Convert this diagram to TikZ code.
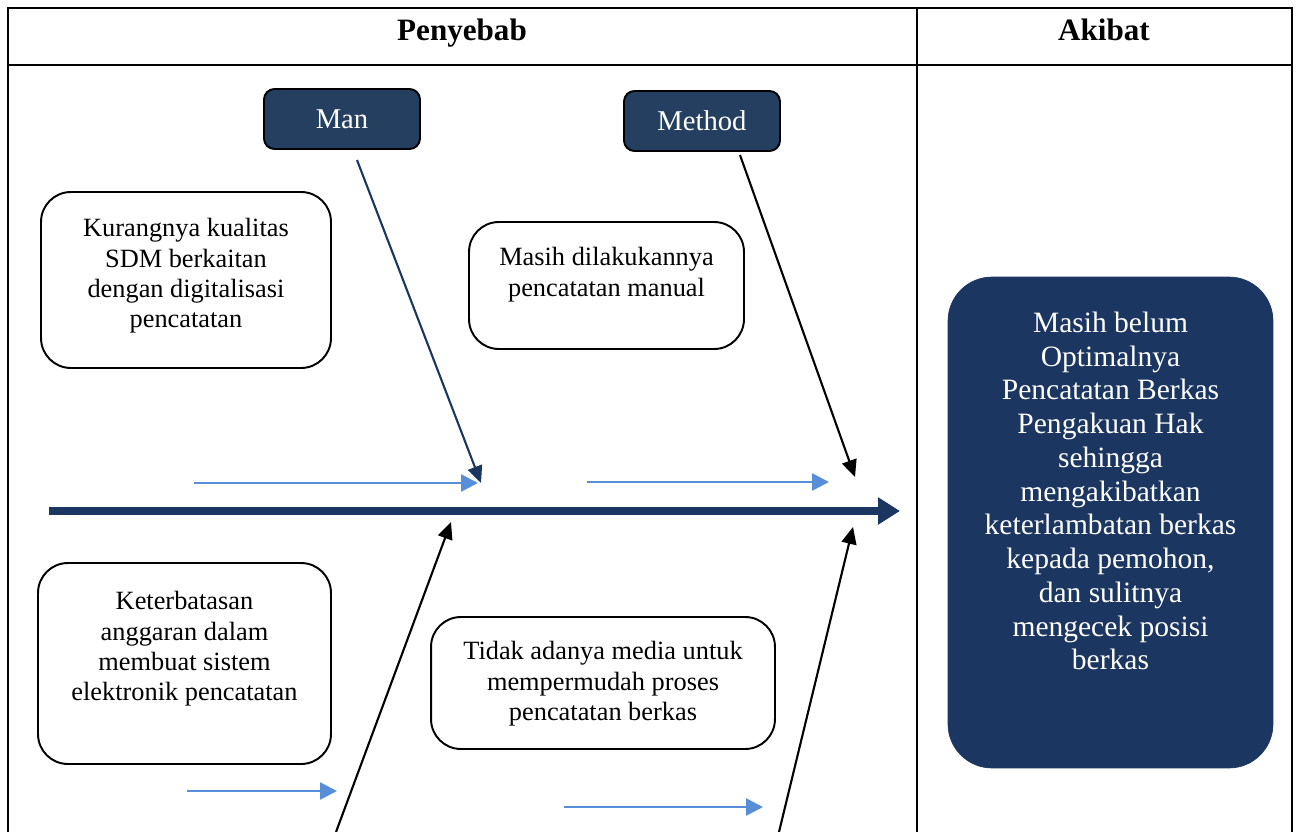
\documentclass[tikz,border=0pt]{standalone}
\usepackage{fontspec}
\setmainfont{Liberation Serif}
\usetikzlibrary{arrows.meta,positioning}

\definecolor{boxnavy}{HTML}{243F60}
\definecolor{deepnavy}{HTML}{1B3660}
\definecolor{skyblue}{HTML}{568FD8}

\begin{document}
\begin{tikzpicture}[x=0.02cm, y=-0.02cm,
    headtext/.style={font=\bfseries\fontsize{17.7}{20}\selectfont},
    catbox/.style={draw=black, line width=1.1pt, fill=boxnavy, rounded corners=6pt,
      text=white, minimum width=3.12cm, minimum height=1.2cm,
      font=\fontsize{16.3}{19}\selectfont},
    causebox/.style={draw=black, line width=1.1pt, rounded corners=17pt, fill=white},
    causetext/.style={align=center, inner sep=0pt, font=\fontsize{15}{17.3}\selectfont},
    bone/.style={line width=1.2pt, -{Triangle[length=0.34cm, width=0.3cm]}},
    subarrow/.style={skyblue, line width=1.5pt, -{Triangle[length=0.34cm, width=0.34cm]}}]
  \useasboundingbox (0,0) rectangle (1299,832);

  % table frame
  \draw[line width=1.3pt] (8,832) -- (8,8) -- (1292,8) -- (1292,832);
  \draw[line width=1.3pt] (8,65) -- (1292,65);
  \draw[line width=1.3pt] (917,8) -- (917,832);
  \node[headtext] (penyebab) at (462,33) {Penyebab};
  \node[headtext] (akibathead) at (1104,30) {Akibat};

  % categories
  \node[catbox] (man) at (342,119) {\raisebox{-2pt}{Man}};
  \node[catbox] (method) at (702,121) {\raisebox{-2pt}{Method}};

  % causes
  \node[causebox, minimum width=5.8cm, minimum height=3.52cm] (sdmbox) at (186,280) {};
  \node[causetext, below=0.54cm of sdmbox.north] (sdm)
    {Kurangnya kualitas\\SDM berkaitan\\dengan digitalisasi\\pencatatan};
  \node[causebox, minimum width=5.5cm, minimum height=2.54cm] (manualbox) at (606.5,285.5) {};
  \node[causetext, below=0.52cm of manualbox.north] (manual)
    {Masih dilakukannya\\pencatatan manual};
  \node[causebox, minimum width=5.86cm, minimum height=4.02cm] (anggaranbox) at (184.5,663.5) {};
  \node[causetext, below=0.58cm of anggaranbox.north] (anggaran)
    {Keterbatasan\\anggaran dalam\\membuat sistem\\elektronik pencatatan};
  \node[causebox, minimum width=6.88cm, minimum height=2.64cm] (mediabox) at (603,683) {};
  \node[causetext, below=0.5cm of mediabox.north] (media)
    {Tidak adanya media untuk\\mempermudah proses\\pencatatan berkas};

  % effect
  \node[fill=deepnavy, draw=deepnavy, rounded corners=25pt, minimum width=6.5cm,
    minimum height=9.82cm] (akibatbox) at (1110.5,522.5) {};
  \node[align=center, inner sep=0pt, text=white, font=\fontsize{16.8}{19.2}\selectfont,
    below=0.7cm of akibatbox.north] (akibat)
    {Masih belum\\Optimalnya\\Pencatatan Berkas\\Pengakuan Hak\\sehingga\\mengakibatkan\\
     keterlambatan berkas\\kepada pemohon,\\dan sulitnya\\mengecek posisi\\berkas};

  % spine
  \coordinate (tail) at (49,511);
  \coordinate (head) at (900,511);
  \draw[deepnavy, line width=4pt, -{Triangle[length=0.44cm, width=0.52cm]}] (tail) -- (head);

  % bones
  \coordinate (manfrom) at (357,160);
  \coordinate (manto) at (481,483);
  \draw[bone, deepnavy] (manfrom) -- (manto);
  \coordinate (methodfrom) at (740,155);
  \coordinate (methodto) at (855,477);
  \draw[bone] (methodfrom) -- (methodto);
  \coordinate (lowleftfrom) at (336,832);
  \coordinate (lowleftto) at (451,522);
  \draw[bone] (lowleftfrom) -- (lowleftto);
  \coordinate (lowrightfrom) at (779,832);
  \coordinate (lowrightto) at (853,527);
  \draw[bone] (lowrightfrom) -- (lowrightto);

  % sub-cause arrows
  \foreach \n/\xa/\xb/\y in {1/194/478/483, 2/587/829/482, 3/187/337/791, 4/564/763/807} {
    \coordinate (sub\n from) at (\xa,\y);
    \coordinate (sub\n to) at (\xb,\y);
    \draw[subarrow] (sub\n from) -- (sub\n to);
  }
\end{tikzpicture}
\end{document}
